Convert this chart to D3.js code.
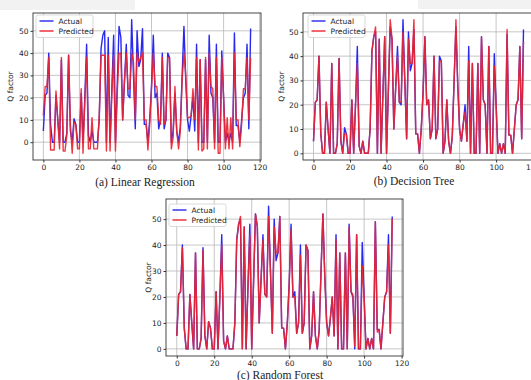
<!DOCTYPE html>
<html>
<head>
<meta charset="utf-8">
<script src="https://cdn.jsdelivr.net/npm/d3@7"></script>
<style>
body { margin: 0; background: #fff; }
svg { display: block; }
</style>
</head>
<body>
<svg id="chart" width="531" height="380"></svg>
<script>
var xTicks = [0, 20, 40, 60, 80, 100, 120];
var yTicks = [0, 10, 20, 30, 40, 50];
var seriesNames = ["Actual", "Predicted"];
var captions = ["(a) Linear Regression", "(b) Decision Tree", "(c) Random Forest"];

// measured Q factor of the test samples (same in all three panels)
var actual = [5, 21, 22, 40, 8, 0, 0, 21, 10, 0,
  37, 0, 0, 4, 39, 5, 0, 10.5, 8, 0,
  0, 22, 0, 20, 44, 3, 0, 5, 0, 0,
  0, 10, 42, 48, 50, 0, 47, 0, 24, 48,
  0, 26, 52, 47, 10, 27, 44, 21, 20, 55,
  30, 6, 50, 34, 37, 51, 8, 8, 0, 10,
  25, 48, 20, 22, 6, 10, 40, 6, 10, 40,
  38, 0, 5, 22, 5, 0, 7, 30, 52, 28,
  10, 5, 12, 20, 5, 44, 0, 37, 0, 0,
  37, 0, 48, 22, 20, 0, 44, 0, 0, 41,
  20, 0, 4, 0, 4, 0, 49, 7.5, 7.5, 0,
  10, 20, 22, 44, 6, 51];

var lrPred = [12, 25, 25, 38, -3.5, -3.5, -3.5, 23, 10, -3,
  38, -4, -4, 3, 39, 8, -5, 9, 8, -3,
  -3, 24, -5, 18, 38, -3, -3, 11, -3, -3,
  -3, 12, 39, 39, 39, -4, 39, -4, 22, 39,
  -4, 22, 40, 40, 10, 28, 40, 24, 24, 40,
  36, 10, 40, 36, 38, 40, 10, 10, -3.5, 8,
  24, 40, 25, 25, 10, 8, 38, 8, 10, 38,
  38, -3, 2, 25, 5, -3, 5, 28, 40, 30,
  11, 11, 12, 24, 10, 38, -3.5, 37, -4, -3,
  38, -3, 40, 25, 24, -3, 38, -5, -5, 38,
  20, -3, 11, -3, 11, -3, 40, 10, 10, -2,
  8, 24, 24, 38, 10, 38];

var dtPred = [5, 21, 22, 40, 8, 0, 0, 21, 10, 0,
  37, 0, 0, 4, 39, 5, 0, 8, 8, 0,
  0, 22, 0, 20, 37, 3, 0, 5, 0, 0,
  0, 10, 42, 48, 52, 0, 47, 0, 24, 48,
  0, 26, 55, 47, 10, 27, 40, 21, 21, 50,
  30, 6, 47, 37, 37, 55, 8, 8, 0, 10,
  25, 48, 20, 22, 6, 10, 40, 6, 10, 38,
  38, 0, 5, 22, 5, 0, 7, 30, 55, 28,
  10, 5, 12, 17, 5, 38, 0, 37, 0, 0,
  37, 0, 48, 22, 20, 0, 44, 0, 0, 36,
  20, 0, 4, 0, 4, 0, 51, 7.5, 7.5, 0,
  10, 20, 22, 44, 6, 46];

var rfPred = [5, 21, 22, 39, 8, 0, 0, 21, 10, 0,
  37, 0, 0, 4, 38, 5, 0, 10.5, 8, 0,
  0, 22, 0, 20, 40, 3, 0, 5, 0, 0,
  0, 10, 42, 48, 51, 0, 47, 0, 24, 44,
  0, 26, 52, 47, 10, 27, 42, 21, 20, 51,
  30, 6, 47, 37, 37, 51, 8, 8, 0, 10,
  25, 46, 20, 20, 6, 10, 36, 6, 10, 40,
  38, 0, 5, 22, 5, 0, 7, 30, 52, 28,
  10, 5, 12, 20, 5, 42, 0, 37, 0, 0,
  37, 0, 47, 22, 21, 1, 44, 0, 0, 32,
  20, 0, 4, 0, 4, 0, 49, 6.5, 7.5, 0,
  10, 20, 22, 40, 6, 50];

var panels = [
  { left: 33, top: 13, right: 261, bottom: 160, yMin: -8, yMax: 58, pred: lrPred,
    capX: 145, capY: 186, labX: 13, legX: 36, legY: 15 },
  { left: 303, top: 13, right: 534, bottom: 160, yMin: -2.75, yMax: 57.75, pred: dtPred,
    capX: 414, capY: 185, labX: 284, legX: 308, legY: 15 },
  { left: 166, top: 199, right: 403, bottom: 356, yMin: -2.75, yMax: 57.75, pred: rfPred,
    capX: 280, capY: 379, labX: 151, legX: 169, legY: 204 }
];

var svg = d3.select("#chart");

// faint scan shading at the top edge
svg.append("rect").attr("x", 0).attr("y", 0).attr("width", 135).attr("height", 10).attr("fill", "#f2f2f2");
svg.append("rect").attr("x", 418).attr("y", 0).attr("width", 113).attr("height", 9).attr("fill", "#f2f2f2");

var drawPanel = function(p, i) {
  var g, x, y, line, lg;
  g = svg.append("g");
  x = d3.scaleLinear().domain([-5.75, 120.75]).range([p.left, p.right]);
  y = d3.scaleLinear().domain([p.yMin, p.yMax]).range([p.bottom, p.top]);

  g.selectAll(".gx").data(xTicks).enter().append("line")
    .attr("x1", function(d) { return x(d); }).attr("x2", function(d) { return x(d); })
    .attr("y1", p.top).attr("y2", p.bottom)
    .attr("stroke", "#b8b8b8").attr("stroke-width", 0.8);
  g.selectAll(".gy").data(yTicks).enter().append("line")
    .attr("x1", p.left).attr("x2", p.right)
    .attr("y1", function(d) { return y(d); }).attr("y2", function(d) { return y(d); })
    .attr("stroke", "#b8b8b8").attr("stroke-width", 0.8);

  line = d3.line().x(function(d, k) { return x(k); }).y(function(d) { return y(d); });
  g.append("path").datum(actual).attr("d", line)
    .attr("fill", "none").attr("stroke", "#2828f0").attr("stroke-width", 1.4).attr("stroke-linejoin", "round");
  g.append("path").datum(p.pred).attr("d", line)
    .attr("fill", "none").attr("stroke", "#ec2430").attr("stroke-width", 1.4).attr("stroke-linejoin", "round")
    .attr("stroke-opacity", 0.92);

  g.append("rect").attr("x", p.left).attr("y", p.top)
    .attr("width", p.right - p.left).attr("height", p.bottom - p.top)
    .attr("fill", "none").attr("stroke", "#333").attr("stroke-width", 0.9);

  g.append("g").attr("transform", "translate(0," + p.bottom + ")")
    .call(d3.axisBottom(x).tickValues(xTicks).tickSize(2.5).tickPadding(2))
    .call(function(a) { a.select(".domain").remove(); });
  g.append("g").attr("transform", "translate(" + p.left + ",0)")
    .call(d3.axisLeft(y).tickValues(yTicks).tickSize(2.5).tickPadding(2))
    .call(function(a) { a.select(".domain").remove(); });
  g.selectAll(".tick text").attr("font-family", "DejaVu Sans").attr("font-size", 7.5).attr("fill", "#222");
  g.selectAll(".tick line").attr("stroke", "#333");

  g.append("text")
    .attr("transform", "translate(" + p.labX + "," + ((p.top + p.bottom) / 2) + ") rotate(-90)")
    .attr("text-anchor", "middle").attr("font-family", "DejaVu Sans").attr("font-size", 7.5)
    .attr("fill", "#222").text("Q factor");

  g.append("text").attr("x", p.capX).attr("y", p.capY).attr("text-anchor", "middle")
    .attr("font-family", "Liberation Serif").attr("font-size", 11.5).attr("fill", "#222")
    .text(captions[i]);

  lg = g.append("g").attr("transform", "translate(" + p.legX + "," + p.legY + ")");
  lg.append("rect").attr("width", 57).attr("height", 22.5).attr("rx", 2)
    .attr("fill", "#fff").attr("fill-opacity", 0.85).attr("stroke", "#d0d0d0").attr("stroke-width", 0.8);
  seriesNames.forEach(function(name, k) {
    lg.append("line").attr("x1", 3.5).attr("x2", 17.5).attr("y1", 6 + k * 10).attr("y2", 6 + k * 10)
      .attr("stroke", k === 0 ? "#2828f0" : "#ec2430").attr("stroke-width", 1.4);
    lg.append("text").attr("x", 22.5).attr("y", 8.7 + k * 10)
      .attr("font-family", "DejaVu Sans").attr("font-size", 7.5).attr("fill", "#222").text(name);
  });
};

panels.forEach(drawPanel);
</script>
</body>
</html>
